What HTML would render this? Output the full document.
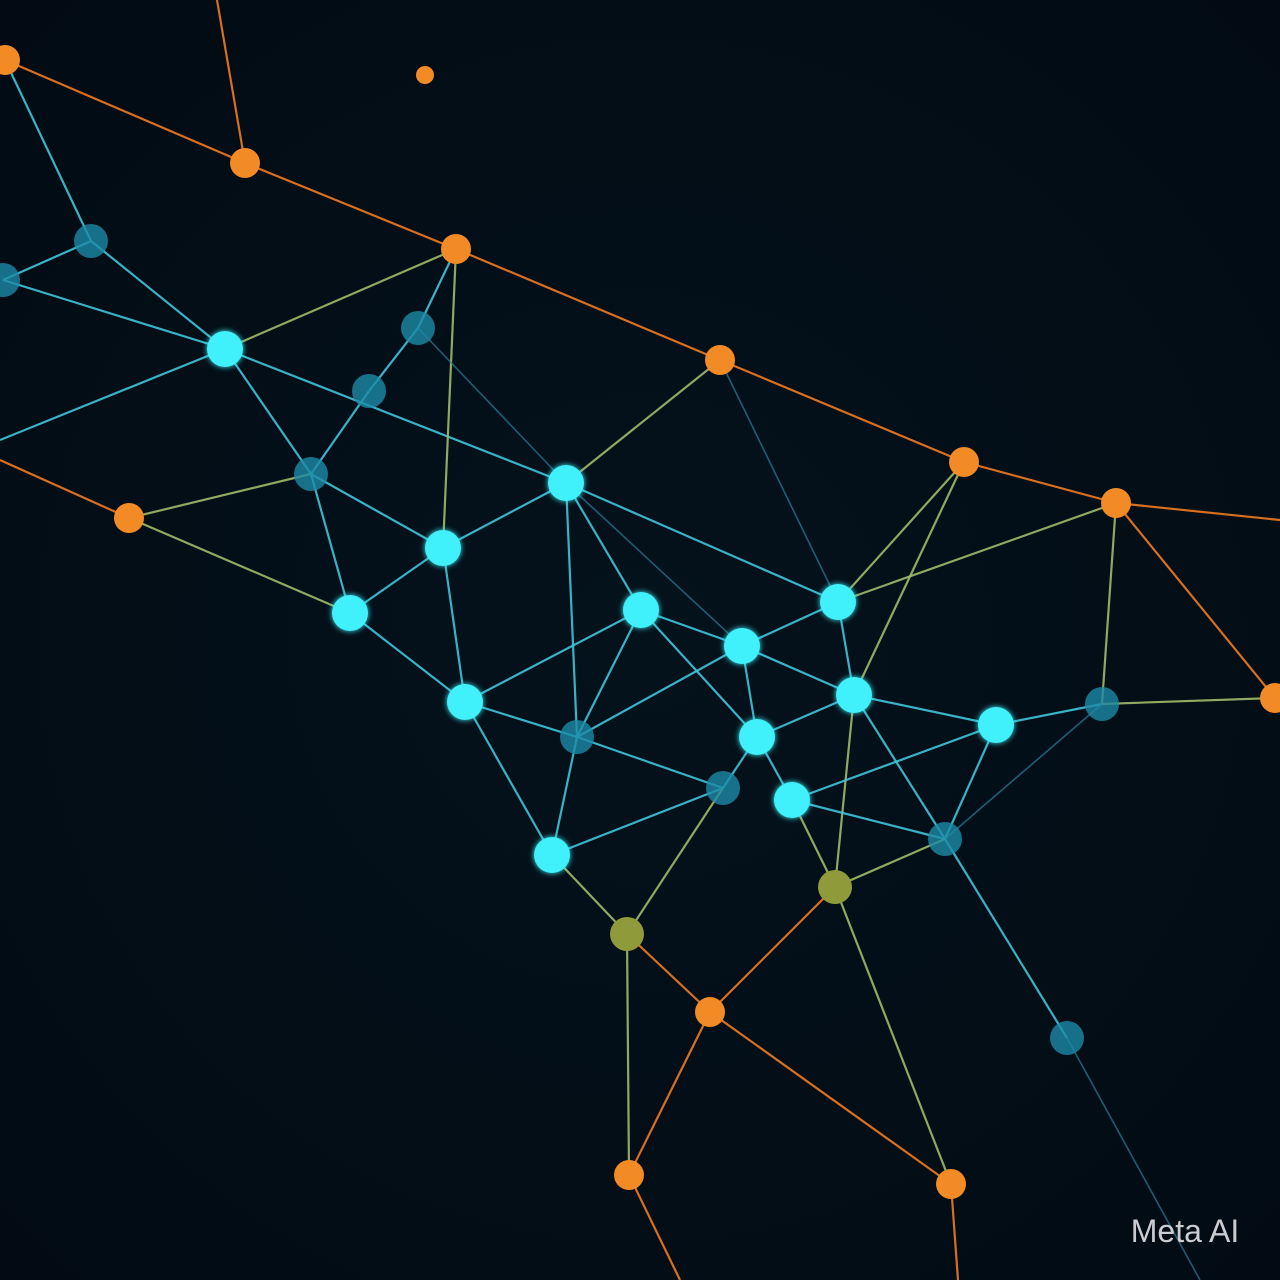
<!DOCTYPE html>
<html><head><meta charset="utf-8"><style>
html,body{margin:0;padding:0;background:#020d16;}
svg{display:block}
</style></head><body>
<svg id="chart" width="1280" height="1280" viewBox="0 0 1280 1280" xmlns="http://www.w3.org/2000/svg">
<defs>
<radialGradient id="bg" cx="50%" cy="50%" r="70%"><stop offset="0" stop-color="#04121c"/><stop offset="1" stop-color="#020b13"/></radialGradient>
<filter id="glow" x="-50%" y="-50%" width="200%" height="200%"><feGaussianBlur stdDeviation="3" result="b"/><feMerge><feMergeNode in="b"/><feMergeNode in="SourceGraphic"/></feMerge></filter>
</defs>
<rect width="1280" height="1280" fill="url(#bg)"/>
<g id="edges"></g><g id="nodes"></g>
<text x="1185" y="1242" text-anchor="middle" font-family="Liberation Sans, sans-serif" font-size="32" fill="#c9ccd0">Meta AI</text>
</svg>
<script>
const nodeIds=["o1","o2","o3","o4","o5","o6","o7","o8","o9","o10","o11","o12","y1","y2","c1","c2","c3","c4","c5","c6","c7","c8","c9","c10","c11","c12","c13","d1","d2","d3","d4","d5","d6","d7","d8","d9","d10"];
const nodeX=[5,245,456,720,964,1116,1275,129,425,710,629,951,627,835,225,566,443,350,641,838,742,854,757,465,996,792,552,91,3,418,369,311,577,723,1102,945,1067];
const nodeY=[60,163,249,360,462,503,698,518,75,1012,1175,1184,934,887,349,483,548,613,610,602,646,695,737,702,725,800,855,241,280,328,391,474,737,788,704,839,1038];
const nodeType=["o","o","o","o","o","o","o","o","o","o","o","o","y","y","c","c","c","c","c","c","c","c","c","c","c","c","c","d","d","d","d","d","d","d","d","d","d"];
const edges=[
["o1","o2","o"],["o2","o3","o"],["o3","o4","o"],["o4","o5","o"],["o5","o6","o"],["o6","o7","o"],
["y1","o10","o"],["y2","o10","o"],["o10","o11","o"],["o10","o12","o"],["o11","y1","g"],["o12","y2","g"],
["o1","d1","c"],["d1","c1","c"],["d2","d1","c"],["d2","c1","c"],["c1","o3","g"],["c1","d5","c"],["c1","c2","c"],
["d5","c4","c"],["d5","c3","c"],["d5","o8","g"],["o8","c4","g"],["c4","c3","c"],["c4","c10","c"],["c3","c2","c"],
["c3","o3","g"],["c3","c10","c"],["c2","o4","g"],["c2","c5","c"],["c2","c6","c"],["c2","d6","c"],["c2","c7","d"],
["d3","o3","c"],["d3","d4","c"],["d4","d5","c"],["d3","c2","d"],["c5","c10","c"],["c5","c7","c"],["c5","c9","c"],
["c5","d6","c"],["c10","d6","c"],["c10","c13","c"],["d6","c13","c"],["d6","c7","c"],["c7","c6","c"],["c7","c8","c"],
["c7","c9","c"],["c6","c8","c"],["c6","o5","g"],["c6","o6","g"],["c8","o5","g"],["c8","c9","c"],["c8","c11","c"],
["c8","d9","c"],["c8","y2","g"],["c9","c12","c"],["c12","c11","c"],["c12","y2","g"],["c12","d9","c"],["c11","d9","c"],
["c11","d8","c"],["d8","o6","g"],["d8","o7","g"],["d8","d9","d"],["d9","y2","g"],["d9","d10","c"],["c13","d7","c"],
["d7","y1","g"],["d7","c9","c"],["c13","y1","g"],["o4","c6","d"],["d6","d7","c"]];
const stubs=[["o2",217,0,"o"],["o6",1280,520,"o"],["o8",0,460,"o"],["o11",680,1280,"o"],["o12",958,1280,"o"],["d10",1200,1280,"d"],["c1",0,440,"c"]];
const edgeColor={o:"#f07a22",c:"#3fc4da",g:"#9fba6a",d:"#2a7f9a"};
const nodeFill={o:"#f28a26",y:"#8f9b3a",c:"#3ff0fa",d:"#1d8aa6"};
const nodeR={o:15,y:17,c:18,d:17};
const NS="http://www.w3.org/2000/svg";
const idx=id=>nodeIds.indexOf(id);
const eg=document.getElementById("edges"),ng=document.getElementById("nodes");
function line(x1,y1,x2,y2,t){const l=document.createElementNS(NS,"line");
l.setAttribute("x1",x1);l.setAttribute("y1",y1);l.setAttribute("x2",x2);l.setAttribute("y2",y2);
l.setAttribute("stroke",edgeColor[t]);l.setAttribute("stroke-width",t==="d"?1.6:2.2);l.setAttribute("opacity",t==="d"?0.7:0.9);
eg.appendChild(l);return l;}
edges.forEach(e=>{const a=idx(e[0]),b=idx(e[1]);
const l=line(nodeX[a],nodeY[a],nodeX[b],nodeY[b],e[2]);

});
stubs.forEach(s=>{const a=idx(s[0]);
const l=line(nodeX[a],nodeY[a],s[1],s[2],s[3]);

});
nodeIds.forEach((id,i)=>{const t=nodeType[i];const c=document.createElementNS(NS,"circle");
c.setAttribute("cx",nodeX[i]);c.setAttribute("cy",nodeY[i]);
c.setAttribute("r",id==="o9"?9:nodeR[t]);c.setAttribute("fill",nodeFill[t]);
if(t==="c")c.setAttribute("filter","url(#glow)");
if(t==="d")c.setAttribute("opacity","0.8");


ng.appendChild(c);});
</script>
</body></html>
